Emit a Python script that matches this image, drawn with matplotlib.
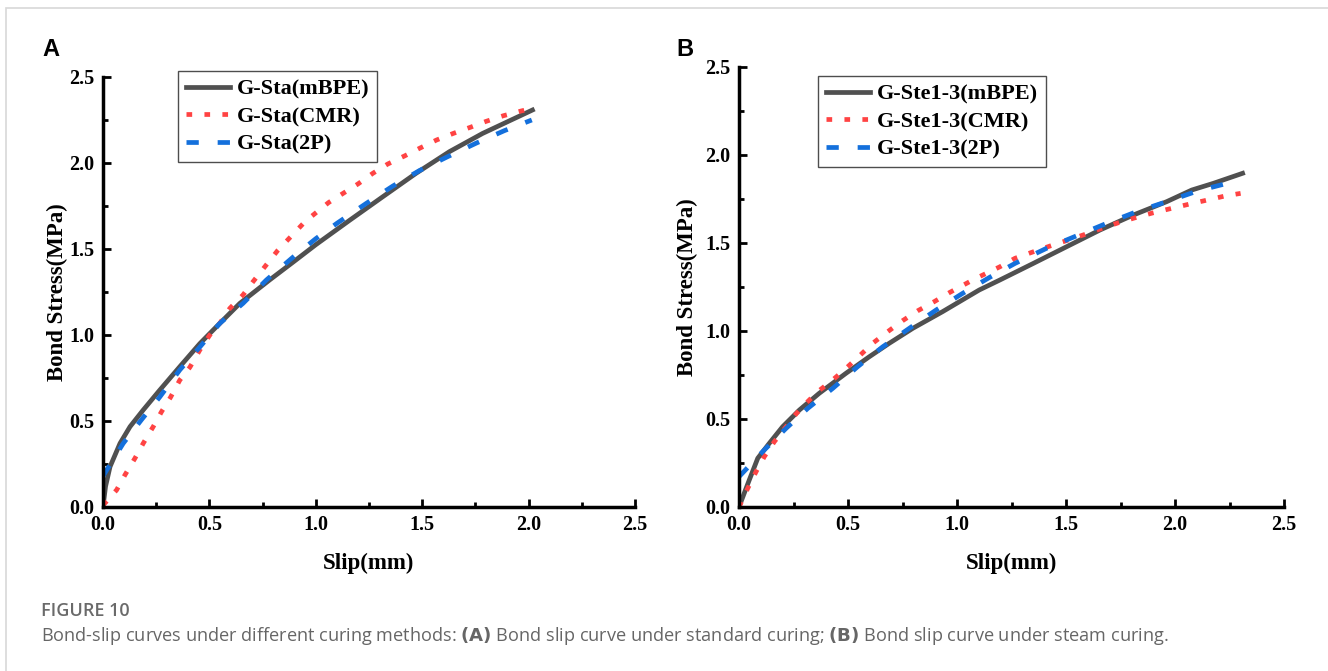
import matplotlib.pyplot as plt
from matplotlib.patches import Rectangle
from matplotlib.ticker import MultipleLocator

# panel A: standard curing
a_slip_mbpe = [0.0, 0.012, 0.033, 0.08, 0.127, 0.189, 0.267, 0.361, 0.455, 0.533, 0.643, 0.783,
               0.9, 1.0, 1.159, 1.315, 1.471, 1.628, 1.784, 2.018]
a_stress_mbpe = [0.0, 0.12, 0.234, 0.37, 0.467, 0.564, 0.68, 0.816, 0.95, 1.048, 1.184, 1.32,
                 1.43, 1.525, 1.667, 1.804, 1.94, 2.066, 2.172, 2.308]
a_slip_cmr = [0.0, 0.064, 0.103, 0.15, 0.189, 0.236, 0.275, 0.317, 0.361, 0.408, 0.455, 0.502,
              0.549, 0.596, 0.658, 0.705, 0.82, 0.95, 1.06, 1.198, 1.268, 1.338, 1.417, 1.49,
              1.568, 1.646, 1.725, 1.8, 1.882, 1.964, 1.99]
a_stress_cmr = [0.01, 0.099, 0.186, 0.283, 0.37, 0.467, 0.554, 0.637, 0.738, 0.812, 0.913, 1.0,
                1.068, 1.155, 1.233, 1.31, 1.49, 1.66, 1.77, 1.878, 1.94, 1.994, 2.041, 2.087,
                2.134, 2.172, 2.207, 2.242, 2.275, 2.302, 2.31]
a_slip_2p = [0.0, 0.095, 0.18, 0.267, 0.361, 0.455, 0.549, 0.658, 0.768, 0.9, 1.0, 1.1,
             1.237, 1.362, 1.487, 1.62, 1.753, 1.886, 2.015]
a_stress_2p = [0.18, 0.37, 0.506, 0.64, 0.797, 0.93, 1.068, 1.184, 1.32, 1.46, 1.56, 1.65,
               1.765, 1.866, 1.956, 2.037, 2.115, 2.188, 2.25]

# panel B: steam curing
b_slip_mbpe = [0.0, 0.047, 0.086, 0.139, 0.2, 0.277, 0.368, 0.491, 0.598, 0.689, 0.797, 0.934,
               1.102, 1.197, 1.35, 1.503, 1.656, 1.809, 1.962, 2.077, 2.176, 2.31]
b_stress_mbpe = [0.0, 0.153, 0.277, 0.362, 0.456, 0.551, 0.646, 0.76, 0.854, 0.93, 1.015, 1.11,
                 1.233, 1.29, 1.384, 1.479, 1.574, 1.659, 1.735, 1.801, 1.839, 1.896]
b_slip_cmr = [0.0, 0.04, 0.078, 0.116, 0.162, 0.216, 0.261, 0.307, 0.361, 0.43, 0.491, 0.552,
              0.613, 0.682, 0.751, 0.82, 0.896, 0.965, 1.08, 1.197, 1.266, 1.35, 1.427, 1.511,
              1.587, 1.664, 1.74, 1.824, 1.901, 1.985, 2.069, 2.148, 2.229, 2.301]
b_stress_cmr = [0.0, 0.106, 0.2, 0.286, 0.371, 0.456, 0.528, 0.589, 0.655, 0.722, 0.788, 0.858,
                0.93, 0.996, 1.059, 1.115, 1.167, 1.218, 1.295, 1.365, 1.413, 1.45, 1.483, 1.517,
                1.549, 1.583, 1.615, 1.646, 1.672, 1.697, 1.722, 1.744, 1.767, 1.782]
b_slip_2p = [0.0, 0.116, 0.216, 0.315, 0.43, 0.544, 0.659, 0.781, 0.904, 1.026, 1.15, 1.266,
             1.411, 1.549, 1.687, 1.824, 1.962, 2.107, 2.252, 2.275]
b_stress_2p = [0.172, 0.324, 0.447, 0.56, 0.674, 0.797, 0.91, 1.015, 1.119, 1.214, 1.305, 1.384,
               1.47, 1.541, 1.612, 1.678, 1.735, 1.797, 1.843, 1.854]

labels_a = ['G-Sta(mBPE)', 'G-Sta(CMR)', 'G-Sta(2P)']
labels_b = ['G-Ste1-3(mBPE)', 'G-Ste1-3(CMR)', 'G-Ste1-3(2P)']
ticks = [0.0, 0.5, 1.0, 1.5, 2.0, 2.5]

serif = 'Liberation Serif'
gray, red, blue = '#505050', '#ff4343', '#1470dc'
W, H = 1328, 671

fig = plt.figure(figsize=(W / 100, H / 100), dpi=100)
fig.patches.append(Rectangle((6 / W, -0.05), 1.1, 1 - 8 / H + 0.05,
                             transform=fig.transFigure, fill=False,
                             edgecolor='#d8d8d8', linewidth=1.2))

ax_a = fig.add_axes([103 / W, 1 - 507 / H, 532 / W, 430 / H])
ax_b = fig.add_axes([739 / W, 1 - 507 / H, 545 / W, 440 / H])

panels = [
    (ax_a, [(a_slip_mbpe, a_stress_mbpe), (a_slip_cmr, a_stress_cmr), (a_slip_2p, a_stress_2p)],
     labels_a, (178 / W, 1 - 71 / H), 0.8),
    (ax_b, [(b_slip_mbpe, b_stress_mbpe), (b_slip_cmr, b_stress_cmr), (b_slip_2p, b_stress_2p)],
     labels_b, (818 / W, 1 - 76 / H), 5),
]

for ax, series, labels, anchor, ypad in panels:
    (x1, y1), (x2, y2), (x3, y3) = series
    ax.plot(x1, y1, color=gray, lw=3.4, label=labels[0])
    ax.plot(x2, y2, color=red, lw=3.4, linestyle=(0, (1.2, 2.6)), label=labels[1])
    ax.plot(x3, y3, color=blue, lw=3.4, linestyle=(0, (2.6, 4.0)), label=labels[2])
    ax.set_xlim(0, 2.5)
    ax.set_ylim(0, 2.5)
    ax.set_xticks(ticks)
    ax.set_yticks(ticks)
    ax.xaxis.set_minor_locator(MultipleLocator(0.25))
    ax.yaxis.set_minor_locator(MultipleLocator(0.25))
    ax.tick_params(which='major', direction='in', length=6, width=2, labelsize=14.5, pad=6)
    ax.tick_params(which='minor', direction='in', length=3.5, width=2)
    for lab in ax.get_xticklabels() + ax.get_yticklabels():
        lab.set_fontfamily(serif)
        lab.set_fontweight('bold')
    for s in ['top', 'right']:
        ax.spines[s].set_visible(False)
    for s in ['left', 'bottom']:
        ax.spines[s].set_linewidth(2.5)
    ax.set_xlabel('Slip(mm)', fontsize=16.5, fontfamily=serif, fontweight='bold', labelpad=12.5)
    ax.set_ylabel('Bond Stress(MPa)', fontsize=16.5, fontfamily=serif, fontweight='bold',
                  labelpad=ypad)
    leg = ax.legend(loc='upper left', bbox_to_anchor=anchor, bbox_transform=fig.transFigure,
                    borderaxespad=0, fancybox=False, edgecolor='#222222',
                    prop={'family': serif, 'weight': 'bold', 'size': 16},
                    handlelength=2.0, labelspacing=0.32, borderpad=0.35, handletextpad=0.3)
    leg.get_frame().set_linewidth(1.0)

fig.text(42 / W, 1 - 50 / H, 'A', fontsize=17, fontweight='bold',
         fontfamily='Liberation Sans', va='center', ha='left')
fig.text(676 / W, 1 - 50 / H, 'B', fontsize=17, fontweight='bold',
         fontfamily='Liberation Sans', va='center', ha='left')

fig.text(41 / W, 1 - 611 / H, 'FIGURE 10', fontsize=13, color='#6a6a6a',
         fontfamily='Open Sans', fontweight='semibold', va='center', ha='left')
fig.text(41 / W, 1 - 636 / H,
         'Bond-slip curves under different curing methods: $\\bf{(A)}$ Bond slip curve under standard curing; '
         '$\\bf{(B)}$ Bond slip curve under steam curing.',
         fontsize=13.1, color='#666666', fontfamily='Open Sans', va='center', ha='left')

fig.savefig('out.png', dpi=100)
